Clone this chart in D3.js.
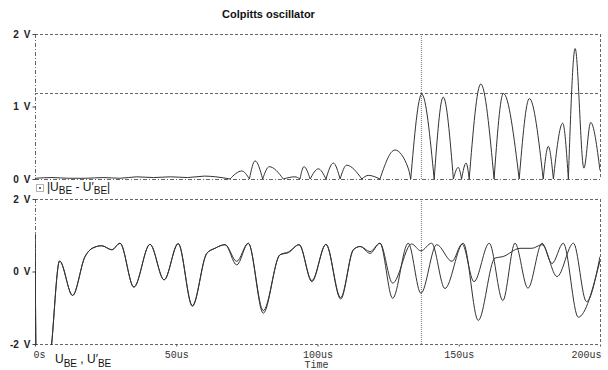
<!DOCTYPE html>
<html>
<head>
<meta charset="utf-8">
<script src="https://cdn.jsdelivr.net/npm/d3@7"></script>
<style>
  html, body { margin: 0; padding: 0; background: #fff; }
  svg { display: block; }
  .title { font: bold 11px "Liberation Sans", Arial, sans-serif; fill: #111; }
  .ylab text { font: bold 10px "Liberation Sans", Arial, sans-serif; fill: #222; }
  .xlab text { font: 10px "Liberation Mono", "Courier New", monospace; fill: #333; }
  .legend { font-family: "Liberation Sans", Arial, sans-serif; fill: #111; }
</style>
</head>
<body>
<svg id="chart" width="608" height="370"></svg>
<script>
// time in us, values in V
const diffTime = [0, 6, 12, 18, 24, 30, 36, 42, 48, 54, 60, 64, 69, 73.2, 75.9, 77.9, 80.6, 82.9, 87.9, 92.0, 93.8, 95.2, 97.4, 100.3, 103.0, 105.6, 108.0, 110.3, 115.7, 118.0, 122.1, 127.4, 132.1, 133.0, 136.9, 141.3, 144.5, 148.1, 149.8, 151.0, 152.6, 153.7, 157.8, 162.5, 165.8, 171.4, 175.0, 179.9, 181.7, 183.5, 186.8, 188.8, 191.2, 194.3, 196.7, 200];
const diffValue = [0.01, 0.02, 0.01, 0.01, 0.02, 0.01, 0.03, 0.02, 0.03, 0.02, 0.04, 0.03, 0, 0.11, 0, 0.25, 0, 0.17, 0, 0.03, 0, 0.17, 0, 0.14, 0, 0.22, 0, 0.19, 0, 0.05, 0, 0.40, 0.15, 0, 1.17, 0, 1.13, 0, 0.16, 0, 0.22, 0, 1.31, 0, 1.18, 0, 1.11, 0, 0.45, 0, 0.77, 0, 1.80, 0.15, 0.78, 0.12];

const ubeTime = [0, 0.6, 3, 5.9, 8.7, 13.3, 17.7, 20.5, 23.6, 27.2, 30.1, 35.0, 40.7, 45.7, 50.7, 55.7, 60.8, 63.7, 67.3, 71.4, 75.5, 80.8, 86.7, 89.7, 93.5, 98.0, 103.0, 108.2, 112.7, 115.1, 118.6, 122.1, 126.6, 132.1, 136.6, 142.2, 147.6, 151.2, 155.4, 160.8, 165.6, 169.9, 174.5, 179.5, 183.0, 187.0, 192.3, 200];
const ubeValue = [1.05, -3.5, -4.5, -2.0, 0.29, -0.66, 0.41, 0.65, 0.71, 0.60, 0.78, -0.43, 0.75, -0.23, 0.77, -0.94, 0.50, 0.64, 0.74, 0.18, 0.78, -1.15, 0.46, 0.52, 0.74, -0.28, 0.75, -0.76, 0.60, 0.69, 0.50, 0.78, -0.74, 0.78, -0.60, 0.74, 0.28, 0.76, -0.28, 0.78, -0.80, 0.78, -0.46, 0.78, 0.22, 0.78, -1.26, 0.30];

const ubePrimeTime = [0, 0.6, 3, 5.9, 8.7, 13.3, 17.7, 20.5, 23.6, 27.2, 30.1, 35.0, 40.7, 45.7, 50.7, 55.7, 60.8, 63.7, 67.3, 71.4, 75.5, 80.8, 86.7, 89.7, 93.5, 98.0, 103.0, 108.2, 112.7, 115.1, 118.6, 122.1, 126.6, 133.3, 136.6, 140.4, 145.1, 151.6, 156.9, 162.8, 165.6, 171.7, 175.9, 179.5, 184.8, 190.6, 195.2, 200];
const ubePrimeValue = [1.05, -3.5, -4.5, -2.0, 0.29, -0.66, 0.41, 0.65, 0.71, 0.60, 0.78, -0.43, 0.75, -0.23, 0.77, -0.96, 0.50, 0.64, 0.74, 0.28, 0.78, -1.08, 0.46, 0.54, 0.74, -0.25, 0.75, -0.72, 0.60, 0.69, 0.55, 0.78, -0.32, 0.76, 0.57, 0.78, -0.47, 0.78, -1.35, 0.37, 0.41, 0.64, 0.64, 0.74, -0.14, 0.78, -0.83, 0.41];

const timeTicks = [0, 50, 100, 150, 200];
const timeTickLabels = ['0s', '50us', '100us', '150us', '200us'];
const topTicks = [0, 1, 2];
const topTickLabels = ['0\u2002V', '1\u2002V', '2\u2002V'];
const bottomTicks = [-2, 0, 2];
const bottomTickLabels = ['-2\u2002V', '0\u2002V', '2\u2002V'];

// cursor
const cursorTime = 136.6;
const cursorValue = 1.18;

const config = {
  left: 35,
  right: 600,
  top: { y0: 179, y1: 34 },
  bottom: { y0: 344, y1: 199 },
  lineColor: '#333',
  gridColor: '#666'
};

const svg = d3.select('#chart');

const x = d3.scaleLinear().domain([0, 200]).range([config.left, config.right]);
const yTop = d3.scaleLinear().domain([0, 2]).range([config.top.y0, config.top.y1]);
const yBottom = d3.scaleLinear().domain([-2, 2]).range([config.bottom.y0, config.bottom.y1]);

// title
svg.append('text').attr('class', 'title').attr('x', 222).attr('y', 18).text('Colpitts oscillator');

// clip paths
const defs = svg.append('defs');
defs.append('clipPath').attr('id', 'clipTop').append('rect')
  .attr('x', config.left).attr('y', config.top.y1).attr('width', config.right - config.left).attr('height', config.top.y0 - config.top.y1 + 1);
defs.append('clipPath').attr('id', 'clipBottom').append('rect')
  .attr('x', config.left).attr('y', config.bottom.y1).attr('width', config.right - config.left).attr('height', config.bottom.y0 - config.bottom.y1 + 1);

function drawFrame(y, bottomDash) {
  const [yb, yt] = y.range();
  const g = svg.append('g').attr('class', 'frame')
    .style('stroke', config.gridColor).style('stroke-width', 1).style('fill', 'none');
  g.append('line').attr('x1', config.left).attr('x2', config.right).attr('y1', yt + 0.5).attr('y2', yt + 0.5)
    .style('stroke-dasharray', '3,2');
  g.append('line').attr('x1', config.left).attr('x2', config.right).attr('y1', yb + 0.5).attr('y2', yb + 0.5)
    .style('stroke-dasharray', bottomDash);
  g.append('line').attr('x1', config.right + 0.5).attr('x2', config.right + 0.5).attr('y1', yt).attr('y2', yb)
    .style('stroke-dasharray', '3,2');
  g.append('line').attr('x1', config.left + 0.5).attr('x2', config.left + 0.5).attr('y1', yt).attr('y2', yb)
    .style('stroke-dasharray', '4,2,1,2');
}

drawFrame(yTop, '4,2,1,2');
drawFrame(yBottom, '3,2');

function drawYAxis(y, ticks, labels) {
  const axis = d3.axisLeft(y)
    .tickValues(ticks)
    .tickFormat((d, i) => labels[i])
    .tickSize(3)
    .tickPadding(2);
  const g = svg.append('g').attr('class', 'ylab')
    .attr('transform', `translate(${config.left + 0.5},0)`)
    .call(axis);
  g.select('.domain').remove();
  g.selectAll('.tick line').style('stroke', '#444');
}

drawYAxis(yTop, topTicks, topTickLabels);
drawYAxis(yBottom, bottomTicks, bottomTickLabels);

// x axis
const xAxis = d3.axisBottom(x)
  .tickValues(timeTicks)
  .tickFormat((d, i) => timeTickLabels[i])
  .tickSize(2)
  .tickPadding(4);
const xg = svg.append('g').attr('class', 'xlab')
  .attr('transform', `translate(0,${config.bottom.y0 + 0.5})`)
  .call(xAxis);
xg.select('.domain').remove();
xg.selectAll('.tick line').style('stroke', '#555');
xg.selectAll('.tick text')
  .attr('text-anchor', (d, i) => i === 0 ? 'start' : (i === timeTicks.length - 1 ? 'end' : 'middle'))
  .attr('dx', (d, i) => i === 0 ? -2 : (i === timeTicks.length - 1 ? 1 : 0));
svg.append('g').attr('class', 'xlab').append('text')
  .attr('x', x(100) - 1).attr('y', 368).attr('text-anchor', 'middle').text('Time');

// cursor lines
svg.append('line')
  .attr('x1', x(cursorTime) + 0.5).attr('x2', x(cursorTime) + 0.5)
  .attr('y1', config.top.y1).attr('y2', config.top.y0)
  .style('stroke', '#777').style('stroke-dasharray', '1,1');
svg.append('line')
  .attr('x1', x(cursorTime) + 0.5).attr('x2', x(cursorTime) + 0.5)
  .attr('y1', config.bottom.y1).attr('y2', config.bottom.y0)
  .style('stroke', '#777').style('stroke-dasharray', '1,1');
svg.append('line')
  .attr('x1', config.left).attr('x2', config.right)
  .attr('y1', Math.round(yTop(cursorValue)) + 0.5).attr('y2', Math.round(yTop(cursorValue)) + 0.5)
  .style('stroke', config.gridColor).style('stroke-dasharray', '3,2');

// top trace: |U_BE - U'_BE|, drawn hump by hump so the zeros stay sharp
const diffPoints = diffTime.map((t, i) => ({ t, v: diffValue[i] }));
const segments = [];
let current = [];
diffPoints.forEach((p) => {
  current.push(p);
  if (p.v === 0 && current.length > 1) {
    segments.push(current);
    current = [p];
  }
});
if (current.length > 1) segments.push(current);

const topLine = d3.line()
  .x((d) => x(d.t))
  .y((d) => yTop(d.v))
  .curve(d3.curveMonotoneX);

svg.append('g').attr('clip-path', 'url(#clipTop)')
  .append('path')
  .attr('d', segments.map((s) => topLine(s)).join(''))
  .style('fill', 'none')
  .style('stroke', config.lineColor)
  .style('stroke-width', 1);

// bottom traces
const bottomLine = d3.line()
  .x((d) => x(d.t))
  .y((d) => yBottom(d.v))
  .curve(d3.curveMonotoneX);

const bottomSeries = [
  ubeTime.map((t, i) => ({ t, v: ubeValue[i] })),
  ubePrimeTime.map((t, i) => ({ t, v: ubePrimeValue[i] }))
];

svg.append('g').attr('clip-path', 'url(#clipBottom)')
  .selectAll('path')
  .data(bottomSeries)
  .join('path')
  .attr('d', bottomLine)
  .style('fill', 'none')
  .style('stroke', config.lineColor)
  .style('stroke-width', 1);

// legends
const icon = svg.append('g');
icon.append('rect').attr('x', 36.5).attr('y', 184.5).attr('width', 7).attr('height', 7)
  .style('fill', 'none').style('stroke', '#666').style('stroke-dasharray', '1,1');
icon.append('rect').attr('x', 39).attr('y', 187).attr('width', 2).attr('height', 2).style('fill', '#666');

const topLegend = svg.append('text').attr('class', 'legend').attr('x', 47).attr('y', 191).style('font-size', '12px');
topLegend.append('tspan').text('|U');
topLegend.append('tspan').attr('dy', 3).style('font-size', '10px').text('BE');
topLegend.append('tspan').attr('dy', -3).text('\u00a0-\u00a0U\u2032');
topLegend.append('tspan').attr('dy', 3).style('font-size', '10px').text('BE');
topLegend.append('tspan').attr('dy', -3).text('|');

const bottomLegend = svg.append('text').attr('class', 'legend').attr('x', 55).attr('y', 363).style('font-size', '12px');
bottomLegend.append('tspan').text('U');
bottomLegend.append('tspan').attr('dy', 4).style('font-size', '10px').text('BE');
bottomLegend.append('tspan').attr('dy', -4).text('\u00a0,\u00a0U\u2032');
bottomLegend.append('tspan').attr('dy', 4).style('font-size', '10px').text('BE');
</script>
</body>
</html>
